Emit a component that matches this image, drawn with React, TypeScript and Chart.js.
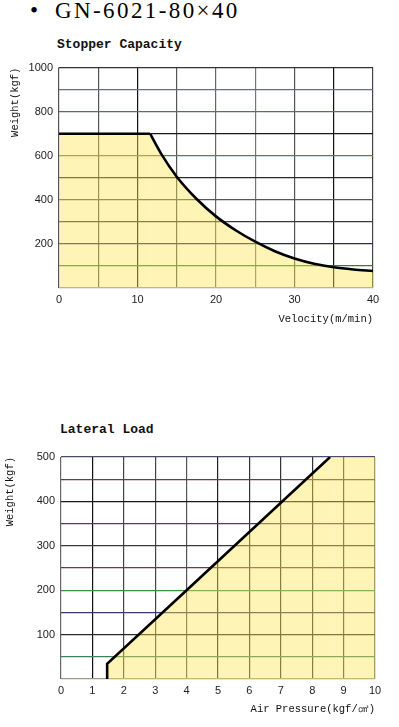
import React, { useEffect, useRef } from "react";
import { Chart, registerables } from "chart.js";
Chart.register(...registerables);

// ---- data: Stopper Capacity ----
const flatVelocity = [0, 11.6];
const flatWeight = [700, 700];
const curveVelocity = [11.6, 13, 15, 17.5, 20, 22.5, 25, 27.5, 30, 32.5, 35, 37.5, 40];
const curveWeight = [700, 610, 505, 405, 325, 262, 210, 167, 134, 110, 94, 84, 77];
const stopperXLabels = [0, 10, 20, 30, 40];
const stopperYLabels = [200, 400, 600, 800, 1000];

// ---- data: Lateral Load ----
const pressure = [1.47, 1.47, 4, 8.57];
const lateralWeight = [0, 34, 200, 500];
const fillPressure = [8.57, 10];
const fillWeight = [500, 500];
const lateralXLabels = [0, 1, 2, 3, 4, 5, 6, 7, 8, 9, 10];
const lateralYLabels = [100, 200, 300, 400, 500];

// ---- styles ----
const FILL = "rgba(252, 228, 80, 0.42)";
const topH = ["#9a9a8a", "#3d7a3d", "#2a2a5a", "#3a3a3a", "#555555", "#2a2a2a", "#3f8f3f", "#1a1a1a", "#4a7a52", "#6a6a9a", "#333333"];
const topV = ["#555", "#555", "#111", "#555", "#666", "#777", "#555", "#111", "#444"];
const botH = ["#9a9a8a", "#3f7f5f", "#2a2a2a", "#3a3a6a", "#3f8f3f", "#6a3a4a", "#3a3a3a", "#5a3a5a", "#1a1a1a", "#6a3a4a", "#4a4a6a"];
const botV = ["#666", "#111", "#444", "#444", "#555", "#222", "#333", "#333", "#333", "#444", "#666"];

const tickFont = { family: "'Liberation Sans', Arial, sans-serif", size: 11 };
const titleFont = { family: "'Liberation Mono', monospace", size: 10.5 };

function series(xs: number[], ys: number[], smooth: boolean, line: boolean): any {
  return {
    data: xs.map((x, i) => ({ x, y: ys[i] })),
    borderColor: line ? "#000" : "rgba(0,0,0,0)",
    borderWidth: line ? 2.6 : 0,
    backgroundColor: FILL,
    fill: "origin",
    pointRadius: 0,
    cubicInterpolationMode: smooth ? "monotone" : "default",
    tension: 0,
  };
}

function makeConfig(opts: any): any {
  const {
    datasets, xMin, xMax, xStep, yMin, yMax, yStep, xLabels, yLabels,
    hColors, vColors, yAxisWidth, xAxisHeight, padTop, padRight,
    xTitle, yTitle, xTitlePad, yTitlePad,
  } = opts;
  return {
    type: "line",
    data: { datasets },
    options: {
      responsive: false,
      animation: false,
      layout: { padding: { top: padTop, right: padRight, left: 0, bottom: 0 } },
      plugins: { legend: { display: false }, tooltip: { enabled: false } },
      scales: {
        x: {
          type: "linear",
          min: xMin,
          max: xMax,
          afterFit: (s: any) => { s.height = xAxisHeight; },
          ticks: {
            stepSize: xStep,
            padding: 5,
            color: "#222",
            font: tickFont,
            maxRotation: 0,
            autoSkip: false,
            callback: (v: number) => (xLabels.includes(v) ? String(v) : ""),
          },
          grid: {
            drawTicks: false,
            lineWidth: 1.2,
            color: (c: any) => vColors[c.index] || "#444",
          },
          border: { display: false },
          title: {
            display: true,
            text: xTitle,
            align: "end",
            color: "#111",
            font: titleFont,
            padding: { top: 0, bottom: xTitlePad },
          },
        },
        y: {
          type: "linear",
          min: yMin,
          max: yMax,
          afterFit: (s: any) => { s.width = yAxisWidth; },
          ticks: {
            stepSize: yStep,
            padding: 6,
            color: "#222",
            font: tickFont,
            autoSkip: false,
            callback: (v: number) => (yLabels.includes(v) ? String(v) : ""),
          },
          grid: {
            drawTicks: false,
            lineWidth: 1.2,
            color: (c: any) => hColors[c.index] || "#444",
          },
          border: { display: false },
          title: {
            display: true,
            text: yTitle,
            align: "end",
            color: "#111",
            font: titleFont,
            padding: { top: yTitlePad, bottom: 0 },
          },
        },
      },
    },
  };
}

function ChartCanvas(props: { top: number; height: number; config: any }) {
  const ref = useRef<HTMLCanvasElement | null>(null);
  useEffect(() => {
    if (!ref.current) return;
    const chart = new Chart(ref.current, props.config);
    return () => chart.destroy();
  }, []);
  return (
    <canvas
      ref={ref}
      width={399}
      height={props.height}
      style={{ position: "absolute", left: 0, top: props.top, width: 399, height: props.height }}
    />
  );
}

export default function App() {
  const topConfig = makeConfig({
    datasets: [
      series(flatVelocity, flatWeight, false, true),
      series(curveVelocity, curveWeight, true, true),
    ],
    xMin: 0, xMax: 40, xStep: 5, yMin: 0, yMax: 1000, yStep: 100,
    xLabels: stopperXLabels, yLabels: stopperYLabels, hColors: topH, vColors: topV,
    yAxisWidth: 59, xAxisHeight: 52, padTop: 12, padRight: 26,
    xTitle: "Velocity(m/min)", yTitle: "Weight(kgf)", xTitlePad: 14, yTitlePad: 9,
  });
  const botConfig = makeConfig({
    datasets: [
      series(pressure, lateralWeight, false, true),
      series(fillPressure, fillWeight, false, false),
    ],
    xMin: 0, xMax: 10, xStep: 1, yMin: 0, yMax: 500, yStep: 50,
    xLabels: lateralXLabels, yLabels: lateralYLabels, hColors: botH, vColors: botV,
    yAxisWidth: 61, xAxisHeight: 48, padTop: 47, padRight: 24,
    xTitle: "Air Pressure(kgf/㎠)", yTitle: "Weight(kgf)", xTitlePad: 11, yTitlePad: 4,
  });
  const mono: React.CSSProperties = {
    position: "absolute",
    fontFamily: "'Liberation Mono', monospace",
    fontWeight: "bold",
    fontSize: 13,
    lineHeight: "13px",
    color: "#111",
    whiteSpace: "nowrap",
  };
  return (
    <div style={{ position: "absolute", left: 0, top: 0, width: 399, height: 727, background: "#fff", overflow: "hidden" }}>
      <div style={{ position: "absolute", left: 30, top: -1, fontFamily: "'Liberation Serif', serif", fontSize: 23, lineHeight: "23px", color: "#000", whiteSpace: "nowrap" }}>
        •
      </div>
      <div style={{ position: "absolute", left: 55, top: -1, fontFamily: "'Liberation Serif', serif", fontSize: 23, lineHeight: "23px", letterSpacing: "2.4px", color: "#000", whiteSpace: "nowrap" }}>
        GN-6021-80×40
      </div>
      <div style={{ ...mono, left: 57, top: 38 }}>Stopper Capacity</div>
      <div style={{ ...mono, left: 60, top: 423 }}>Lateral Load</div>
      <ChartCanvas top={55} height={285} config={topConfig} />
      <ChartCanvas top={410} height={317} config={botConfig} />
    </div>
  );
}
